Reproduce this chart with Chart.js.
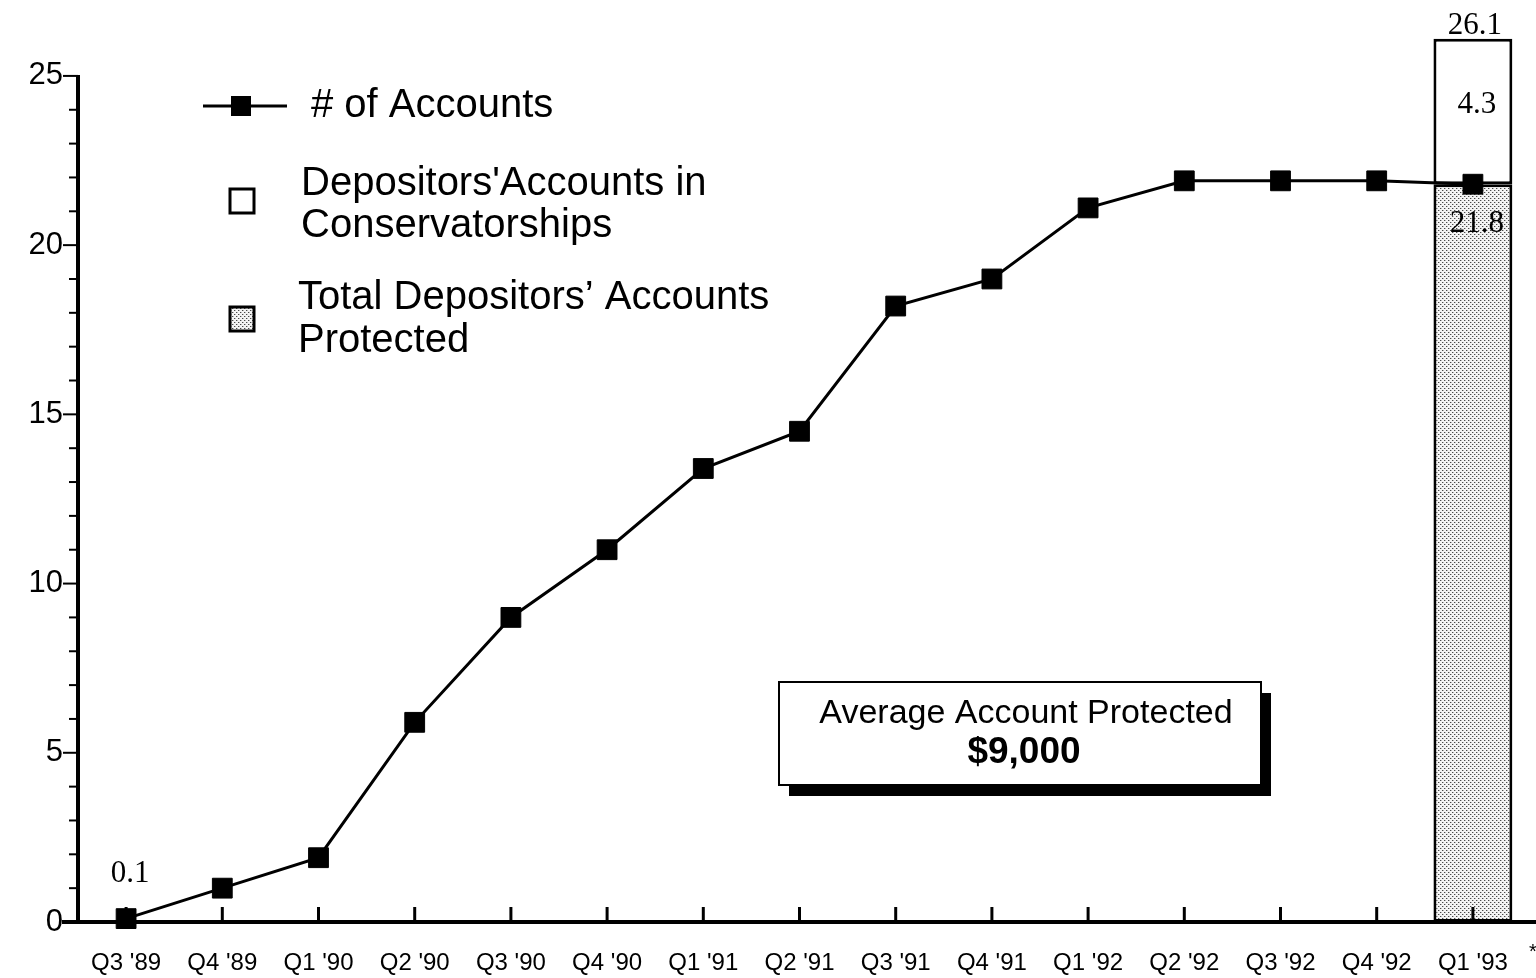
<!DOCTYPE html>
<html>
<head>
<meta charset="utf-8">
<title>Depositors' Accounts Protected</title>
<script src="https://cdn.jsdelivr.net/npm/chart.js"></script>
<style>
  html, body { margin: 0; padding: 0; background: #fff; }
  #wrap { width: 1536px; height: 978px; position: relative; }
</style>
</head>
<body>
<div id="wrap"><canvas id="chart"></canvas></div>
<script>
// quarterly figures, millions of accounts
const quarters = ["Q3 '89", "Q4 '89", "Q1 '90", "Q2 '90", "Q3 '90", "Q4 '90", "Q1 '91", "Q2 '91",
                  "Q3 '91", "Q4 '91", "Q1 '92", "Q2 '92", "Q3 '92", "Q4 '92", "Q1 '93"];
const accounts = [0.1, 1.0, 1.9, 5.9, 9.0, 11.0, 13.4, 14.5, 18.2, 19.0, 21.1, 21.9, 21.9, 21.9, 21.8];
const totalProtected = [null, null, null, null, null, null, null, null, null, null, null, null, null, null, 21.8];
const inConservatorship = [null, null, null, null, null, null, null, null, null, null, null, null, null, null, 4.3];
const yLabels = [0, 5, 10, 15, 20, 25];

const SANS = "'Liberation Sans', Arial, sans-serif";
const SERIF = "'Liberation Serif', 'Times New Roman', serif";

// stipple fill for the protected bar
function makeDots() {
    const c = document.createElement("canvas");
    c.width = 4; c.height = 4;
    const g = c.getContext("2d");
    g.fillStyle = "#f4f4f4";
    g.fillRect(0, 0, 4, 4);
    g.fillStyle = "#4a4a4a";
    g.fillRect(0, 0, 1, 1);
    g.fillRect(2, 2, 1, 1);
    g.fillStyle = "#b8b8b8";
    g.fillRect(1, 0, 1, 1);
    g.fillRect(3, 2, 1, 1);
    return g.createPattern(c, "repeat");
}
const dots = makeDots();

// axis lines and tick marks
const axesPlugin = {
    id: "axes",
    afterDatasetsDraw(chart) {
        const ctx = chart.ctx;
        const x = chart.scales.x, y = chart.scales.y;
        const left = chart.chartArea.left;
        const y0 = y.getPixelForValue(0);
        ctx.save();
        ctx.strokeStyle = "#000";
        ctx.lineCap = "butt";

        ctx.lineWidth = 4;
        ctx.beginPath();
        ctx.moveTo(left, y.getPixelForValue(25) - 1);
        ctx.lineTo(left, y0);
        ctx.stroke();

        ctx.beginPath();
        ctx.moveTo(left - 16, y0);
        ctx.lineTo(chart.width, y0);
        ctx.stroke();

        ctx.lineWidth = 2;
        for (let v = 0; v <= 25; v++) {
            const py = y.getPixelForValue(v);
            const len = v % 5 === 0 ? 15 : 9;
            ctx.beginPath();
            ctx.moveTo(left - len, py);
            ctx.lineTo(left, py);
            ctx.stroke();
        }

        ctx.lineWidth = 3;
        quarters.forEach((q, i) => {
            const px = x.getPixelForValue(i);
            ctx.beginPath();
            ctx.moveTo(px, y0);
            ctx.lineTo(px, y0 - 15);
            ctx.stroke();
        });
        ctx.restore();
    }
};

// value labels, legend and the average-account note
const notesPlugin = {
    id: "notes",
    afterDraw(chart) {
        const ctx = chart.ctx;
        ctx.save();
        ctx.fillStyle = "#000";
        ctx.textAlign = "center";
        ctx.textBaseline = "middle";

        // value labels
        ctx.font = "31px " + SERIF;
        const first = chart.getDatasetMeta(0).data[0];
        ctx.fillText(accounts[0].toFixed(1), first.x + 4, first.y - 45);

        const last = quarters.length - 1;
        const low = chart.getDatasetMeta(1).data[last];
        const high = chart.getDatasetMeta(2).data[last];
        const total = totalProtected[last] + inConservatorship[last];
        ctx.fillText(total.toFixed(1), high.x + 2, high.y - 13);
        ctx.fillText(inConservatorship[last].toFixed(1), high.x + 4, high.y + 66);
        ctx.fillText(totalProtected[last].toFixed(1), low.x + 4, low.y + 40);

        // footnote mark after the last quarter
        ctx.font = "20px " + SANS;
        ctx.fillText("*", 1533, 952);

        // legend
        ctx.textAlign = "left";
        ctx.strokeStyle = "#000";
        ctx.lineWidth = 3;
        ctx.beginPath();
        ctx.moveTo(203, 106);
        ctx.lineTo(287, 106);
        ctx.stroke();
        ctx.fillRect(231, 96, 20, 20);

        ctx.font = "40px " + SANS;
        ctx.fillText("# of Accounts", 311, 106);

        ctx.lineWidth = 3;
        ctx.fillStyle = "#fff";
        ctx.fillRect(230, 189, 24, 24);
        ctx.strokeRect(230, 189, 24, 24);
        ctx.fillStyle = "#000";
        ctx.fillText("Depositors'Accounts in", 301, 184);
        ctx.fillText("Conservatorships", 301, 226);

        ctx.fillStyle = dots;
        ctx.fillRect(230, 307, 24, 24);
        ctx.strokeRect(230, 307, 24, 24);
        ctx.fillStyle = "#000";
        ctx.fillText("Total Depositors\u2019 Accounts", 298, 298);
        ctx.fillText("Protected", 298, 341);

        // note box with drop shadow
        ctx.fillRect(789, 693, 482, 103);
        ctx.fillStyle = "#fff";
        ctx.fillRect(779, 682, 482, 103);
        ctx.lineWidth = 2;
        ctx.strokeRect(779, 682, 482, 103);
        ctx.fillStyle = "#000";
        ctx.textAlign = "center";
        ctx.font = "34px " + SANS;
        ctx.fillText("Average Account Protected", 1026, 714);
        ctx.font = "bold 37px " + SANS;
        ctx.fillText("$9,000", 1024, 753);
        ctx.restore();
    }
};

new Chart(document.getElementById("chart"), {
    data: {
        labels: quarters,
        datasets: [
            {
                type: "line",
                label: "# of Accounts",
                data: accounts,
                stack: "accounts",
                order: 0,
                borderColor: "#000",
                borderWidth: 3,
                tension: 0,
                pointStyle: "rect",
                pointRadius: 14,
                pointBackgroundColor: "#000",
                pointBorderColor: "#000",
                pointBorderWidth: 1,
                clip: false
            },
            {
                type: "bar",
                label: "Total Depositors' Accounts Protected",
                data: totalProtected,
                stack: "deposits",
                order: 1,
                backgroundColor: dots,
                borderColor: "#000",
                borderWidth: 3,
                borderSkipped: false,
                barPercentage: 0.82,
                categoryPercentage: 1
            },
            {
                type: "bar",
                label: "Depositors' Accounts in Conservatorships",
                data: inConservatorship,
                stack: "deposits",
                order: 1,
                backgroundColor: "#fff",
                borderColor: "#000",
                borderWidth: 3,
                borderSkipped: false,
                barPercentage: 0.82,
                categoryPercentage: 1
            }
        ]
    },
    options: {
        responsive: true,
        maintainAspectRatio: false,
        animation: false,
        layout: { padding: { top: 11, left: 0, right: 0, bottom: 0 } },
        plugins: {
            legend: { display: false },
            tooltip: { enabled: false }
        },
        scales: {
            x: {
                stacked: true,
                offset: true,
                grid: { display: false, drawTicks: false },
                border: { display: false },
                ticks: {
                    color: "#000",
                    font: { family: SANS, size: 24 },
                    padding: 27,
                    maxRotation: 0,
                    autoSkip: false
                },
                afterFit(scale) {
                    scale.height = 56;
                    scale.paddingLeft = 0;
                    scale.paddingRight = 0;
                }
            },
            y: {
                stacked: true,
                min: 0,
                max: 26.8,
                grid: { display: false, drawTicks: false },
                border: { display: false },
                ticks: {
                    stepSize: 1,
                    autoSkip: false,
                    color: "#000",
                    font: { family: SANS, size: 31 },
                    padding: 15,
                    callback: v => yLabels.includes(v) ? String(v) : ""
                },
                afterFit(scale) {
                    scale.width = 78;
                    scale.paddingTop = 0;
                    scale.paddingBottom = 0;
                }
            }
        }
    },
    plugins: [axesPlugin, notesPlugin]
});
</script>
</body>
</html>
